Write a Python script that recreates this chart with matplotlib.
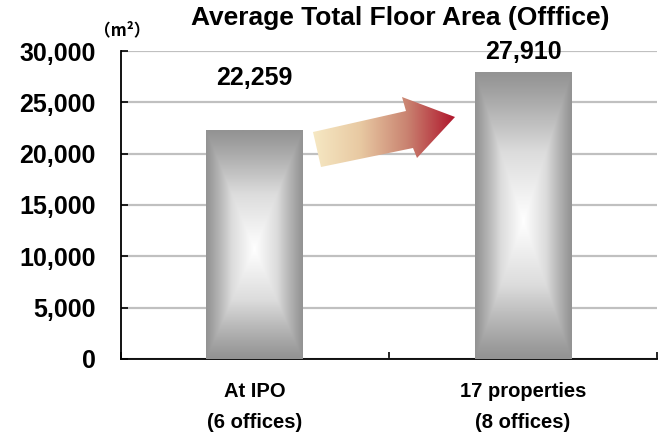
import numpy as np
import matplotlib.pyplot as plt
from matplotlib.patches import Polygon
from matplotlib.colors import LinearSegmentedColormap

plt.rcParams['font.family'] = ['Liberation Sans', 'DejaVu Sans']
plt.rcParams['font.weight'] = 'bold'

# Data
categories = ["At IPO\n(6 offices)", "17 properties\n(8 offices)"]
values = [22259, 27910]
value_labels = ["22,259", "27,910"]
label_offsets = [38, 15]  # points above bar top (as in the picture)
yticks = [0, 5000, 10000, 15000, 20000, 25000, 30000]

fig = plt.figure(figsize=(6.63, 4.36), dpi=100)
ax = fig.add_axes([0.182, 0.177, 0.809, 0.706])

x = np.arange(len(categories))
bars = ax.bar(x, values, width=0.36, color='none', edgecolor='none', zorder=3)

# rectangular "path" gradient: gray edges, white centre
ny, nx = 300, 120
yy, xx = np.mgrid[0:1:ny * 1j, 0:1:nx * 1j]
cy = 0.48
t = np.maximum(np.abs(xx - 0.5) / 0.5,
               np.where(yy < cy, (cy - yy) / cy, (yy - cy) / (1 - cy)))
t = np.clip(t, 0, 1)
shade = 1 - (1 - t) ** 1.1
bar_cmap = LinearSegmentedColormap.from_list('bar', ['#ffffff', '#dcdcdc', '#939393'])
for b in bars:
    x0, w, h = b.get_x(), b.get_width(), b.get_height()
    ax.imshow(shade, cmap=bar_cmap, vmin=0, vmax=1, origin='lower',
              extent=[x0, x0 + w, 0, h], aspect='auto', zorder=3,
              interpolation='bilinear')

ax.set_xlim(-0.5, 1.5)
ax.set_ylim(0, 30000)
ax.set_yticks(yticks)
ax.set_yticklabels([f"{v:,}" for v in yticks], fontsize=18, fontweight='bold')
ax.yaxis.grid(True, color='#c0c0c0', linewidth=1.6, zorder=0)
ax.set_axisbelow(True)

ax.set_xticks([-0.5, 0.5, 1.5])
ax.set_xticklabels([])
ax.set_xticks(x, minor=True)
ax.set_xticklabels(categories, minor=True, fontsize=14.5, fontweight='bold',
                   linespacing=1.75)
ax.tick_params(axis='x', which='major', direction='in', length=5, width=1.2)
ax.tick_params(axis='x', which='minor', length=0, pad=17)
ax.tick_params(axis='y', direction='in', length=5, width=1.2, pad=18)

for s in ['top', 'right']:
    ax.spines[s].set_visible(False)
for s in ['left', 'bottom']:
    ax.spines[s].set_linewidth(1.3)
    ax.spines[s].set_color('black')

for xi, v, lab, off in zip(x, values, value_labels, label_offsets):
    ax.annotate(lab, xy=(xi, v), xytext=(0, off), textcoords='offset points',
                ha='center', va='center', fontsize=18, fontweight='bold', zorder=5)

# gradient arrow between the bars (pixel geometry of the reference)
arrow_px = np.array([(313, 132), (406, 111), (402, 97), (455, 117),
                     (417, 158), (413, 148), (321, 167)], dtype=float)
H = 436
disp = np.column_stack([arrow_px[:, 0], H - arrow_px[:, 1]])
data_pts = ax.transData.inverted().transform(disp)
poly = Polygon(data_pts, closed=True, facecolor='none', edgecolor='none', zorder=4)
ax.add_patch(poly)
arrow_cmap = LinearSegmentedColormap.from_list(
    'arrow', ['#f6e8c3', '#e8c9a2', '#c98270', '#b0162c'])
gx = np.linspace(0, 1, 256)[None, :]
xmin, xmax = data_pts[:, 0].min(), data_pts[:, 0].max()
ymin, ymax = data_pts[:, 1].min(), data_pts[:, 1].max()
gim = ax.imshow(gx, cmap=arrow_cmap, extent=[xmin, xmax, ymin, ymax],
                aspect='auto', zorder=4, interpolation='bilinear')
gim.set_clip_path(poly)
ax.set_xlim(-0.5, 1.5)
ax.set_ylim(0, 30000)

fig.text(0.604, 0.958, "Average Total Floor Area (Offfice)", ha='center', va='center',
         fontsize=19, fontweight='bold')
fig.text(0.185, 0.93, "（m²）", ha='center', va='center', fontsize=12,
         fontweight='bold', family=['Noto Sans CJK JP', 'DejaVu Sans'])

fig.savefig('out.png', dpi=100)
